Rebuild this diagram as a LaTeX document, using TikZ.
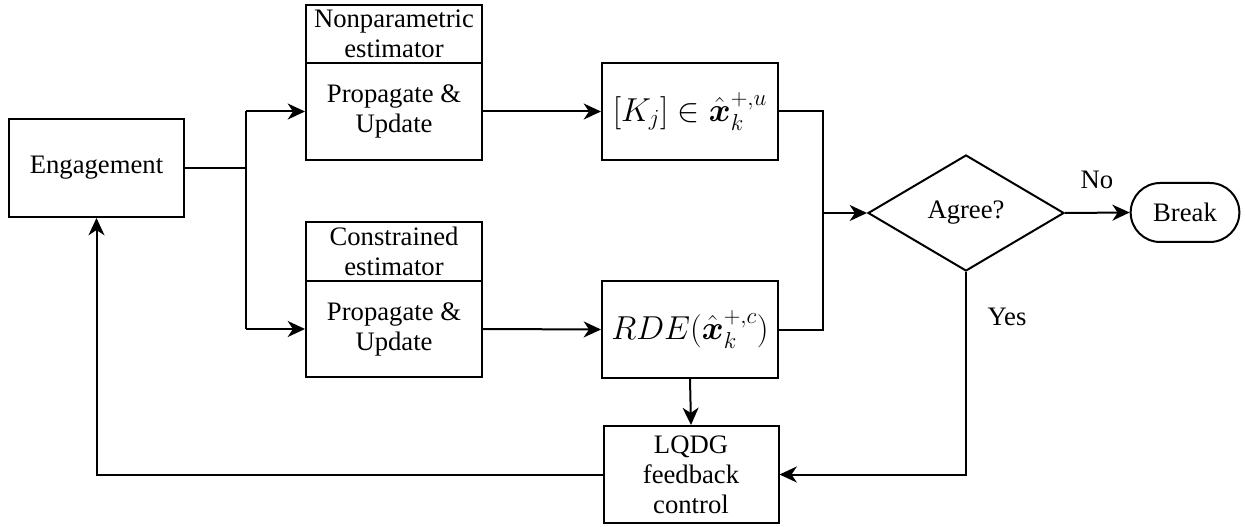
\documentclass[tikz,border=0pt]{standalone}
\usepackage{amsmath}
\usepackage{fontspec}
\setmainfont{Liberation Serif}
\newfontfamily\diagfont{Liberation Serif}
\newcommand{\dsize}{\diagfont\fontsize{20}{22.5}\selectfont}
\newcommand{\msize}{\diagfont\fontsize{26}{28}\selectfont}
\usetikzlibrary{shapes.geometric,shapes.misc,arrows.meta}
\begin{document}
\begin{tikzpicture}[x=0.75pt,y=-0.75pt,
  lbl/.style={line width=1.5pt,font=\dsize},
  box/.style={lbl,draw,rectangle,align=center,inner sep=2pt},
  mathbox/.style={box,font=\msize},
  flow/.style={line width=1.5pt,-{Stealth[length=13pt,width=12pt,inset=4pt]}},
  plain/.style={line width=1.5pt}]
\useasboundingbox (0,0) rectangle (1245,527);
\node[box,minimum width=131.25pt,minimum height=73.5pt] (eng) at (96.5,168) {Engagement};
\node[box,minimum width=132pt,minimum height=43.5pt] (ttop) at (394,34) {Nonparametric\\estimator};
\node[box,minimum width=132pt,minimum height=72.75pt] (btop) at (394,111.5) {Propagate \&\\Update};
\node[box,minimum width=132pt,minimum height=44.25pt] (tbot) at (394,251.5) {Constrained\\estimator};
\node[box,minimum width=132pt,minimum height=72pt] (bbot) at (394,329) {Propagate \&\\Update};
\node[mathbox,minimum width=132pt,minimum height=72.75pt] (kbox) at (690,111.5) {$[K_j]\in\hat{\boldsymbol{x}}_k^{+,u}$};
\node[mathbox,minimum width=132pt,minimum height=72.75pt] (rde) at (690,329.5) {$RDE(\hat{\boldsymbol{x}}_k^{+,c})$};
\node[box,minimum width=131.25pt,minimum height=72.75pt] (lqdg) at (691,474.5) {LQDG\\feedback\\control};
\node[lbl,draw,diamond,aspect=1.69,minimum width=147pt,minimum height=87pt,inner sep=0pt] (agree) at (966,213) {Agree?};
\node[lbl,draw,rounded rectangle,minimum width=85.5pt,minimum height=44.25pt,inner sep=2pt] (brk) at (1185,212.5) {Break};
\node[lbl] (no) at (1097,180) {No};
\node[lbl] (yes) at (1007,317) {Yes};
\coordinate (split) at (246,168);
\coordinate (splitT) at (246,111.5);
\coordinate (splitB) at (246,329);
\coordinate (join) at (823,213);
\coordinate (joinT) at (823,111.5);
\coordinate (joinB) at (823,329.5);
\coordinate (yesC) at (966,474.5);
\coordinate (backC) at (96.5,474.5);
\draw[plain] (eng.east) -- (split);
\draw[plain] (splitT) -- (splitB);
\draw[flow] (splitT) -- (btop.west);
\draw[flow] (splitB) -- (bbot.west);
\draw[flow] (btop.east) -- (kbox.west);
\draw[flow] (bbot.east) -- (rde.west);
\draw[plain] (kbox.east) -- (joinT) -- (joinB) -- (rde.east);
\draw[flow] (join) -- (agree.west);
\draw[flow] (agree.east) -- (brk.west);
\draw[flow] (rde.south) -- (lqdg.north);
\draw[flow] (agree.south) -- (yesC) -- (lqdg.east);
\draw[flow] (lqdg.west) -- (backC) -- (eng.south);
\end{tikzpicture}
\end{document}
